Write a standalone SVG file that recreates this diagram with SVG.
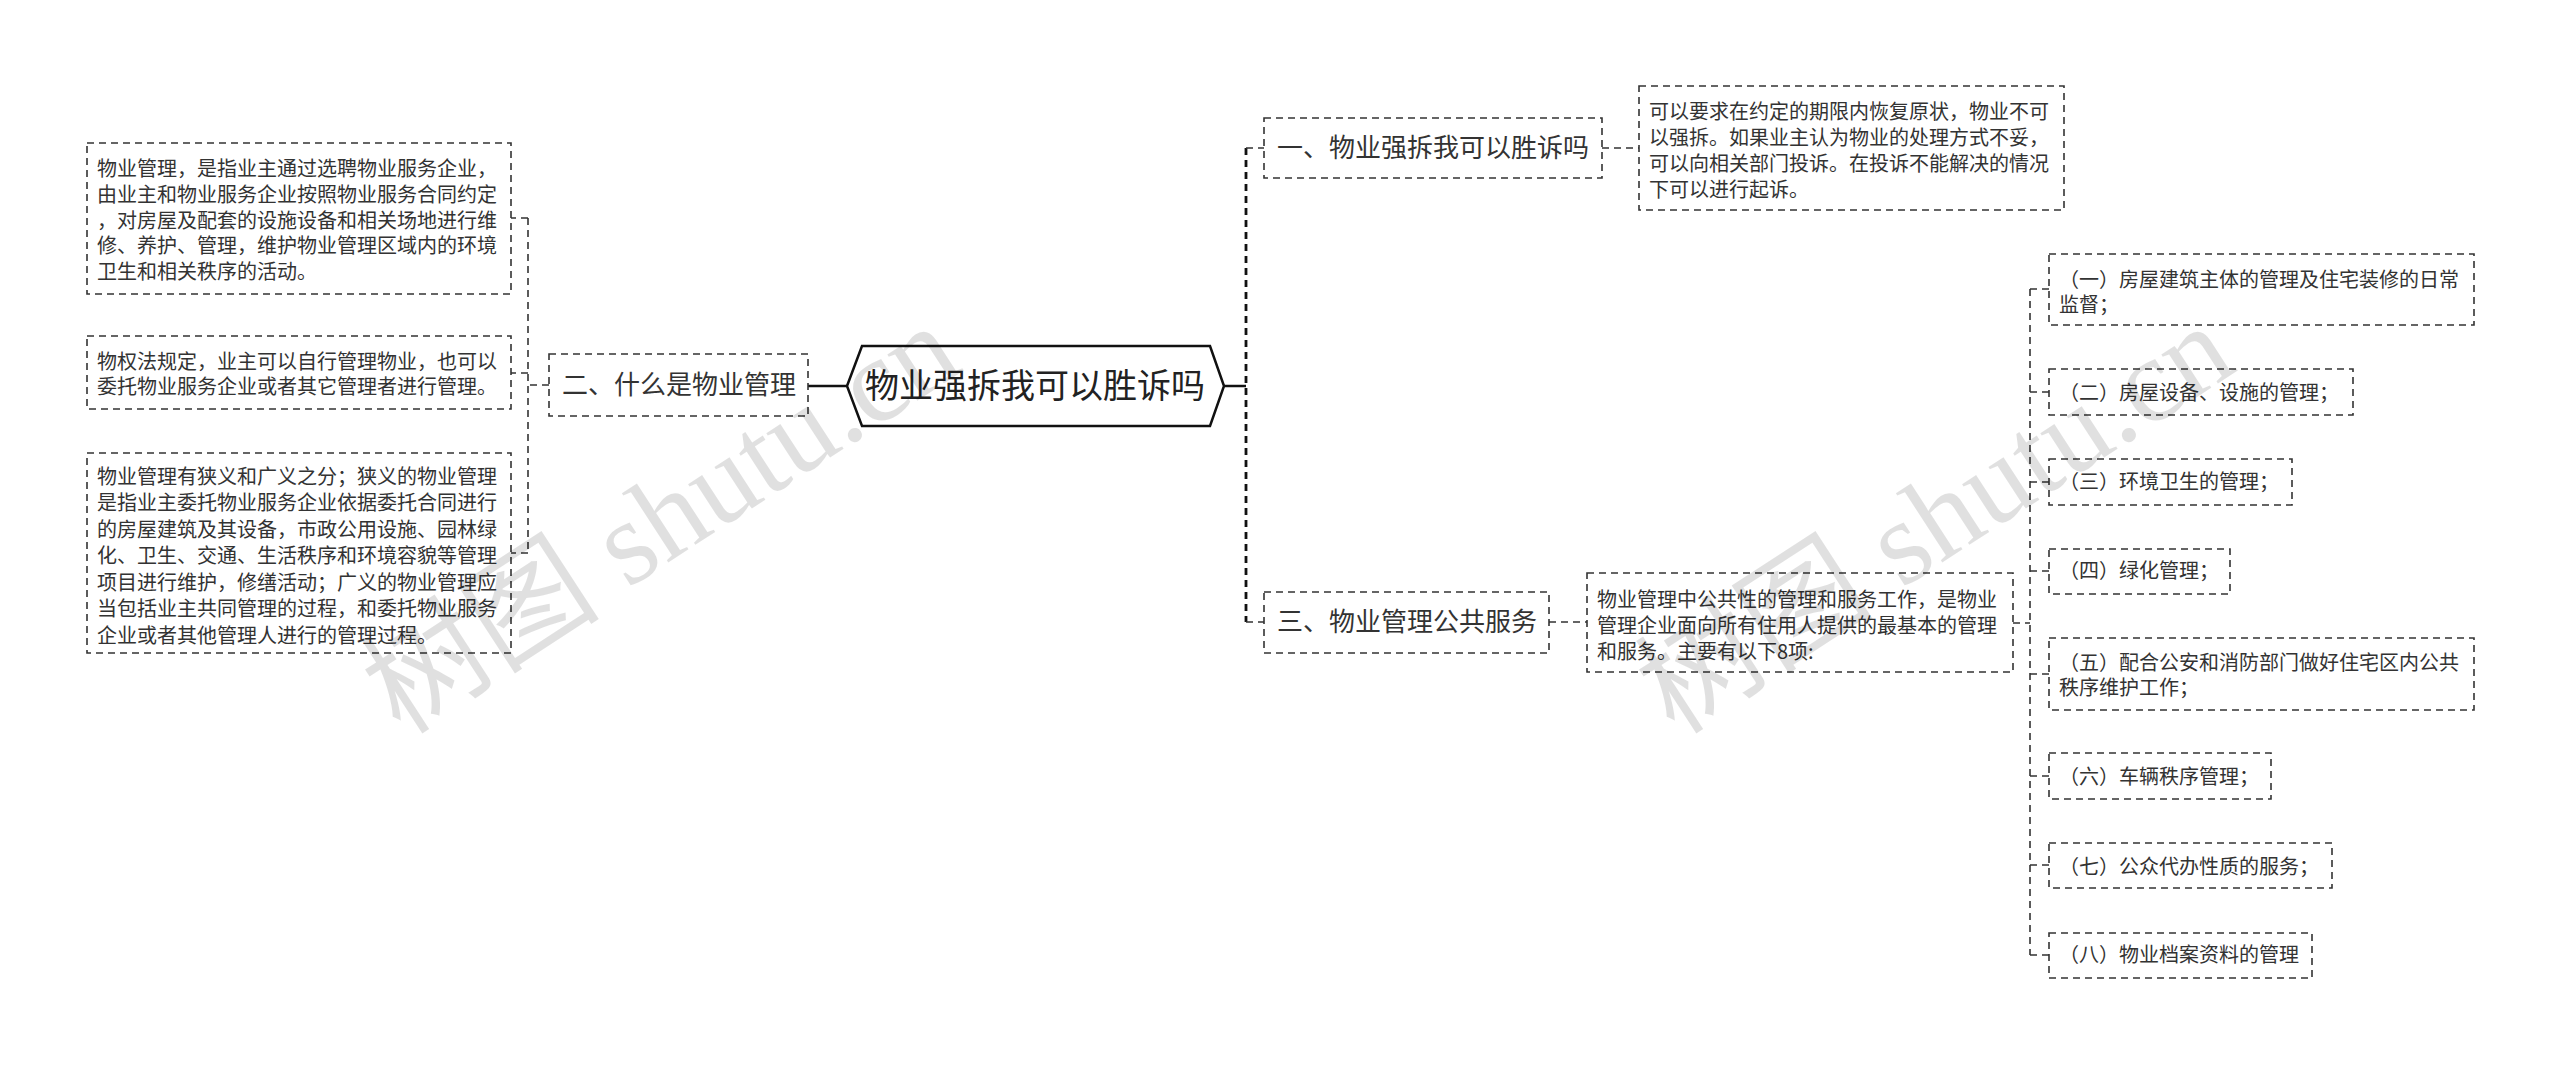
<svg xmlns="http://www.w3.org/2000/svg" width="2560" height="1065" viewBox="0 0 2560 1065">
<style>
  .box{fill:#fff;stroke:#333;stroke-width:1.6;stroke-dasharray:7 5}
  .conn{fill:none;stroke:#333;stroke-width:1.6;stroke-dasharray:7 5}
  .conn2{fill:none;stroke:#111;stroke-width:2.8;stroke-dasharray:7 5}
  .solid{fill:none;stroke:#111;stroke-width:2.5}
  .leaf{font-family:"Noto Sans CJK SC","Noto Sans",sans-serif;font-size:20px;fill:#333}
  .branch{font-family:"Noto Sans CJK SC","Noto Sans",sans-serif;font-size:26px;fill:#333}
  .root{font-family:"Noto Sans CJK SC","Noto Sans",sans-serif;font-size:34px;fill:#222}
  .wm{font-family:"Liberation Serif","Noto Sans CJK SC",serif;font-size:120px;fill:#000;fill-opacity:0.12}
</style>
<rect width="2560" height="1065" fill="#fff"/>
<g id="connectors">
  <path class="solid" d="M808 386 H847"/>
  <path class="solid" d="M1224 386 H1246"/>
  <path class="conn" d="M549 385 H528 M528 218 V553 M528 218 H511 M528 373 H511 M528 553 H511"/>
  <path class="conn2" d="M1246 148 V622"/>
  <path class="conn" d="M1246 148 H1264 M1246 622 H1264"/>
  <path class="conn" d="M1602 148 H1639"/>
  <path class="conn" d="M1549 622 H1587"/>
  <path class="conn" d="M2013 623 H2030 M2030 289 V955 M2030 289 H2049 M2030 392 H2049 M2030 482 H2049 M2030 571 H2049 M2030 674 H2049 M2030 776 H2049 M2030 865 H2049 M2030 955 H2049"/>
</g>
<g id="root">
  <polygon points="847,386 862,346 1210,346 1224,386 1210,426 862,426" fill="#fff" stroke="#111" stroke-width="2.5"/>
  <text class="root" x="1035" y="398" text-anchor="middle">物业强拆我可以胜诉吗</text>
</g>
<g id="branch2">
  <rect class="box" x="549" y="354" width="259" height="62"/>
  <text class="branch" x="562" y="394">二、什么是物业管理</text>
</g>
<g id="leaf2a">
  <rect class="box" x="87" y="143" width="424" height="151"/>
  <text class="leaf" x="97" y="176">物业管理，是指业主通过选聘物业服务企业，</text>
  <text class="leaf" x="97" y="202">由业主和物业服务企业按照物业服务合同约定</text>
  <text class="leaf" x="97" y="228">，对房屋及配套的设施设备和相关场地进行维</text>
  <text class="leaf" x="97" y="253">修、养护、管理，维护物业管理区域内的环境</text>
  <text class="leaf" x="97" y="279">卫生和相关秩序的活动。</text>
</g>
<g id="leaf2b">
  <rect class="box" x="87" y="336" width="424" height="73"/>
  <text class="leaf" x="97" y="369">物权法规定，业主可以自行管理物业，也可以</text>
  <text class="leaf" x="97" y="394">委托物业服务企业或者其它管理者进行管理。</text>
</g>
<g id="leaf2c">
  <rect class="box" x="87" y="453" width="424" height="200"/>
  <text class="leaf" x="97" y="484">物业管理有狭义和广义之分；狭义的物业管理</text>
  <text class="leaf" x="97" y="510">是指业主委托物业服务企业依据委托合同进行</text>
  <text class="leaf" x="97" y="537">的房屋建筑及其设备，市政公用设施、园林绿</text>
  <text class="leaf" x="97" y="563">化、卫生、交通、生活秩序和环境容貌等管理</text>
  <text class="leaf" x="97" y="590">项目进行维护，修缮活动；广义的物业管理应</text>
  <text class="leaf" x="97" y="616">当包括业主共同管理的过程，和委托物业服务</text>
  <text class="leaf" x="97" y="643">企业或者其他管理人进行的管理过程。</text>
</g>
<g id="branch1">
  <rect class="box" x="1264" y="118" width="338" height="60"/>
  <text class="branch" x="1277" y="157">一、物业强拆我可以胜诉吗</text>
</g>
<g id="leaf1">
  <rect class="box" x="1639" y="86" width="425" height="124"/>
  <text class="leaf" x="1649" y="119">可以要求在约定的期限内恢复原状，物业不可</text>
  <text class="leaf" x="1649" y="145">以强拆。如果业主认为物业的处理方式不妥，</text>
  <text class="leaf" x="1649" y="171">可以向相关部门投诉。在投诉不能解决的情况</text>
  <text class="leaf" x="1649" y="197">下可以进行起诉。</text>
</g>
<g id="branch3">
  <rect class="box" x="1264" y="592" width="285" height="61"/>
  <text class="branch" x="1277" y="631">三、物业管理公共服务</text>
</g>
<g id="mid3">
  <rect class="box" x="1587" y="573" width="426" height="99"/>
  <text class="leaf" x="1597" y="607">物业管理中公共性的管理和服务工作，是物业</text>
  <text class="leaf" x="1597" y="633">管理企业面向所有住用人提供的最基本的管理</text>
  <text class="leaf" x="1597" y="659">和服务。主要有以下8项:</text>
</g>
<g id="item1">
  <rect class="box" x="2049" y="254" width="425" height="71"/>
  <text class="leaf" x="2059" y="287">（一）房屋建筑主体的管理及住宅装修的日常</text>
  <text class="leaf" x="2059" y="312">监督；</text>
</g>
<g id="item2">
  <rect class="box" x="2049" y="369" width="304" height="46"/>
  <text class="leaf" x="2059" y="400">（二）房屋设备、设施的管理；</text>
</g>
<g id="item3">
  <rect class="box" x="2049" y="459" width="243" height="46"/>
  <text class="leaf" x="2059" y="489">（三）环境卫生的管理；</text>
</g>
<g id="item4">
  <rect class="box" x="2049" y="549" width="181" height="45"/>
  <text class="leaf" x="2059" y="578">（四）绿化管理；</text>
</g>
<g id="item5">
  <rect class="box" x="2049" y="638" width="425" height="72"/>
  <text class="leaf" x="2059" y="670">（五）配合公安和消防部门做好住宅区内公共</text>
  <text class="leaf" x="2059" y="695">秩序维护工作；</text>
</g>
<g id="item6">
  <rect class="box" x="2049" y="753" width="222" height="46"/>
  <text class="leaf" x="2059" y="784">（六）车辆秩序管理；</text>
</g>
<g id="item7">
  <rect class="box" x="2049" y="843" width="283" height="45"/>
  <text class="leaf" x="2059" y="874">（七）公众代办性质的服务；</text>
</g>
<g id="item8">
  <rect class="box" x="2049" y="933" width="263" height="45"/>
  <text class="leaf" x="2059" y="962">（八）物业档案资料的管理</text>
</g>
<g id="watermark">
  <text class="wm" x="661" y="519" text-anchor="middle" dominant-baseline="central" transform="rotate(-33 661 519)">树图 shutu.cn</text>
  <text class="wm" x="1935" y="519" text-anchor="middle" dominant-baseline="central" transform="rotate(-33 1935 519)">树图 shutu.cn</text>
</g>
</svg>
